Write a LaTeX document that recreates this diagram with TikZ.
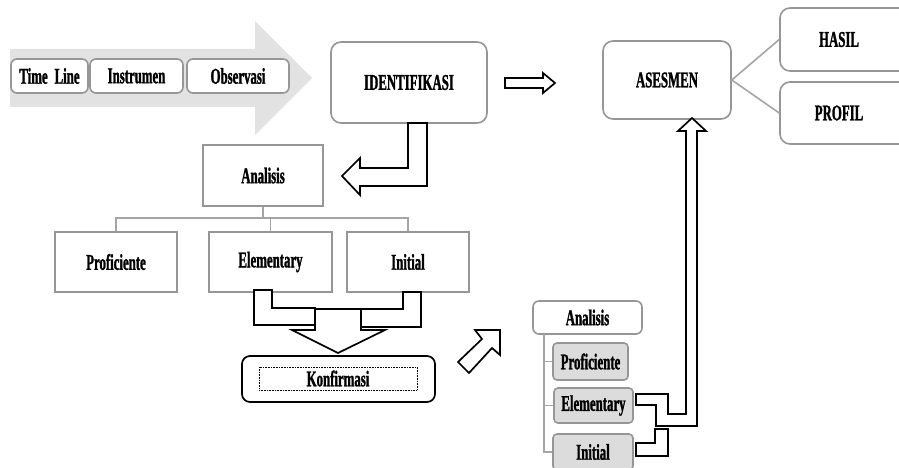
\documentclass[tikz,border=0pt]{standalone}
\usepackage{fontspec}
\setmainfont{Liberation Serif}[FakeStretch=0.57, BoldFeatures={FakeBold=1.2}]
\usetikzlibrary{positioning}
\definecolor{bordergrey}{RGB}{150,150,150}
\definecolor{treegrey}{RGB}{165,165,165}
\definecolor{arrowgrey}{RGB}{226,226,226}
\definecolor{boxgrey}{RGB}{220,220,220}
\tikzset{
  lbl/.style={font=\fontsize{22.5}{24}\selectfont\bfseries, inner sep=0pt},
  rbox/.style={lbl, draw=bordergrey, line width=1.6pt, fill=white, rounded corners=6pt},
  sbox/.style={lbl, draw=bordergrey, line width=1.6pt, fill=white},
  gbox/.style={lbl, draw=bordergrey, line width=1.6pt, fill=boxgrey, rounded corners=4pt},
  tree/.style={draw=treegrey, line width=1.6pt},
  blk/.style={draw=black, line width=1.7pt, fill=white, line join=miter},
}
\begin{document}
\begin{tikzpicture}[x=1pt,y=-1pt]
\useasboundingbox (0,0) rectangle (899,468);
% big grey arrow
\fill[arrowgrey] (10,49) -- (255,49) -- (255,21) -- (312,78) -- (255,135) -- (255,107) -- (10,107) -- cycle;
\node[rbox, minimum width=77pt, minimum height=34pt] (tl) at (49.5,76) {Time\, Line};
\node[rbox, minimum width=93pt, minimum height=34pt] (ins) at (136.5,76) {Instrumen};
\node[rbox, minimum width=102pt, minimum height=34pt] (obs) at (238,76) {Observasi};
% main boxes
\node[rbox, rounded corners=10pt, minimum width=156pt, minimum height=81pt] (iden) at (409,82.5) {IDENTIFIKASI};
\node[rbox, rounded corners=10pt, minimum width=128pt, minimum height=78pt] (ases) at (667,80) {ASESMEN};
\node[rbox, rounded corners=10pt, minimum width=130pt, minimum height=63pt] (hasil) at (845,39.5) {\hspace*{-12pt}HASIL};
\node[rbox, rounded corners=10pt, minimum width=130pt, minimum height=62pt] (profil) at (845,113) {\hspace*{-12pt}PROFIL};
\draw[tree] (ases.east) -- (hasil.west);
\draw[tree] (ases.east) -- (profil.west);
% arrow iden -> ases
\draw[blk] (505,78) -- (543,78) -- (543,73) -- (555,83) -- (543,93) -- (543,88) -- (505,88) -- cycle;
% left analysis tree
\node[sbox, minimum width=120pt, minimum height=61pt] (ana1) at (263,175.5) {Analisis};
\node[sbox, minimum width=122pt, minimum height=60pt] (prof) at (116,262) {Proficiente};
\node[sbox, minimum width=123pt, minimum height=60pt] (elem) at (270.5,262) {Elementary};
\node[sbox, minimum width=122pt, minimum height=60pt] (init) at (408,262) {Initial};
\coordinate (j1) at (263,218);
\draw[tree] (ana1.south) -- (j1);
\draw[tree] (prof.north) |- (j1) -| (init.north);
\draw[tree] (elem.north) -- (elem.north |- j1);
% bent arrow iden -> ana1
\draw[blk] (408,123) -- (408,168) -- (360,168) -- (360,158) -- (342,176) -- (360,195) -- (360,186) -- (427,186) -- (427,123) -- cycle;
% konfirmasi
\node[draw=black, line width=1.7pt, rounded corners=8pt, minimum width=193pt, minimum height=46pt] (konf) at (338.5,379) {};
\node[lbl, draw=black, densely dotted, line width=0.6pt, minimum width=158pt, minimum height=23pt] (konft) at (338,378.5) {Konfirmasi};
% bracket arrows elem/init -> konf
\draw[blk] (254,290) -- (254,325) -- (315,325) -- (315,308) -- (272,308) -- (272,290) -- cycle;
\draw[blk] (421,292) -- (421,327) -- (361,327) -- (361,309) -- (403,309) -- (403,292) -- cycle;
\draw[blk] (315,309) -- (361,309) -- (361,330) -- (385,330) -- (338,353) -- (292,330) -- (315,330) -- cycle;
% diagonal arrow
\draw[blk] (500,330) -- (500,355) -- (492,348) -- (469,373) -- (458,362) -- (482,339) -- (475,330) -- cycle;
% right analysis tree
\node[rbox, minimum width=109pt, minimum height=33pt] (ana2) at (587.5,317.5) {Analisis};
\node[gbox, minimum width=75pt, minimum height=37pt] (prof2) at (590.5,361.5) {Proficiente};
\node[gbox, minimum width=79pt, minimum height=35pt] (elem2) at (593.5,405.5) {Elementary};
\node[gbox, minimum width=80pt, minimum height=36pt] (init2) at (593,452) {Initial};
\coordinate (j2) at (544,334);
\draw[tree] (j2) |- (init2.west);
\draw[tree] (prof2.west) -- (prof2.west -| j2);
\draw[tree] (elem2.west) -- (elem2.west -| j2);
% bracket + up arrow to asesmen
\draw[blk] (636,394) -- (668,394) -- (668,414) -- (686,414) -- (686,131) -- (678,131) -- (692,118) -- (706,131) -- (697,131) -- (697,426) -- (656,426) -- (656,405) -- (636,405) -- cycle;
\draw[blk] (636,443) -- (655,443) -- (655,429) -- (668,429) -- (668,456) -- (636,456) -- cycle;
\end{tikzpicture}
\end{document}
